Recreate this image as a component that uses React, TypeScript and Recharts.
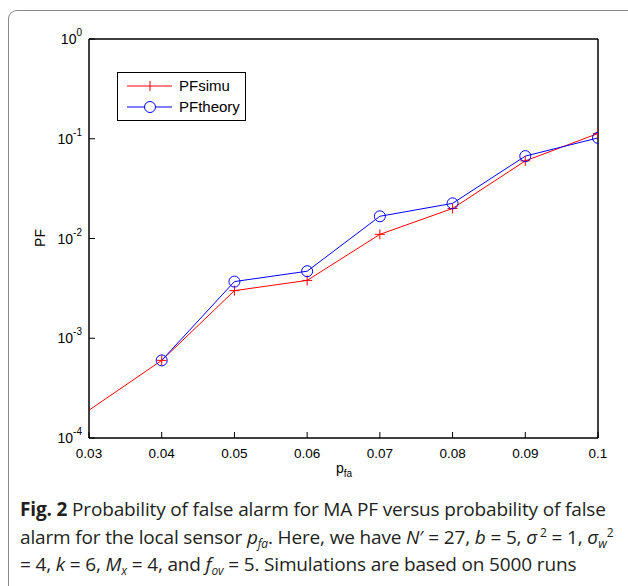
import { LineChart, Line, XAxis, YAxis, Legend, ReferenceArea } from "recharts";

const pfa = [0.03, 0.04, 0.05, 0.06, 0.07, 0.08, 0.09, 0.1];
const pfSimu = [1.9e-4, 6.0e-4, 3.0e-3, 3.8e-3, 1.1e-2, 2.0e-2, 6.0e-2, 1.13e-1];
const pfTheory = [null, 6.0e-4, 3.7e-3, 4.7e-3, 1.67e-2, 2.25e-2, 6.7e-2, 1.02e-1];

const xTicks = [0.03, 0.04, 0.05, 0.06, 0.07, 0.08, 0.09, 0.1];
const xTickLabels = ["0.03", "0.04", "0.05", "0.06", "0.07", "0.08", "0.09", "0.1"];
const yTicks = [1e-4, 1e-3, 1e-2, 1e-1, 1];
const yExponents = ["-4", "-3", "-2", "-1", "0"];
const minorSteps = [2, 3, 4, 5, 6, 7, 8, 9];
const yMinorTicks = yTicks.slice(0, 4).flatMap((d) => minorSteps.map((m) => m * d));

const data = pfa.map((x, i) => ({ x, simu: pfSimu[i], theory: pfTheory[i] }));

const FONT = "'Liberation Sans', Arial, Helvetica, sans-serif";
const CAPTION_FONT = "'Open Sans', 'Noto Sans', sans-serif";
const RED = "#ff0000";
const BLUE = "#0000ff";

const PlusDot = (props: any) => {
  const { cx, cy, index } = props;
  if (index === 0 || cx == null || cy == null) return <g key={`p${index}`} />;
  return (
    <g key={`p${index}`} stroke={RED} strokeWidth={1}>
      <line x1={cx - 5} x2={cx + 5} y1={cy} y2={cy} />
      <line x1={cx} x2={cx} y1={cy - 5} y2={cy + 5} />
    </g>
  );
};

const CircleDot = (props: any) => {
  const { cx, cy, index } = props;
  if (cx == null || cy == null) return <g key={`c${index}`} />;
  return <circle key={`c${index}`} cx={cx} cy={cy} r={5.5} fill="none" stroke={BLUE} strokeWidth={1} />;
};

const YTick = (props: any) => {
  const { y, payload } = props;
  const i = yTicks.indexOf(payload.value);
  return (
    <text x={82} y={y + 5} textAnchor="end" fontFamily={FONT} fontSize={14} fill="#000">
      <tspan>10</tspan>
      <tspan dy={-8} fontSize={10}>{yExponents[i]}</tspan>
    </text>
  );
};

const XTick = (props: any) => {
  const { x, payload } = props;
  const i = xTicks.indexOf(payload.value);
  return (
    <text x={x} y={458} textAnchor="middle" fontFamily={FONT} fontSize={13.5} fill="#000">
      {xTickLabels[i]}
    </text>
  );
};

const LegendBox = () => (
  <svg width={130} height={50} style={{ display: "block" }}>
    <rect x={0.5} y={0.5} width={128} height={48} fill="#fff" stroke="#000" strokeWidth={1} />
    <line x1={10} x2={55} y1={14} y2={14} stroke={RED} strokeWidth={1} />
    <line x1={33} x2={33} y1={9} y2={19} stroke={RED} strokeWidth={1} />
    <text x={62} y={19} fontFamily={FONT} fontSize={15} fill="#000">PFsimu</text>
    <line x1={10} x2={55} y1={35} y2={35} stroke={BLUE} strokeWidth={1} />
    <circle cx={33} cy={35} r={5.5} fill="#fff" stroke={BLUE} strokeWidth={1} />
    <text x={62} y={40} fontFamily={FONT} fontSize={15} fill="#000">PFtheory</text>
  </svg>
);

const subStyle = { fontSize: 12, position: "relative" as const, top: 4, lineHeight: 0, verticalAlign: "baseline" };
const supStyle = { fontSize: 12, position: "relative" as const, top: -7, lineHeight: 0, verticalAlign: "baseline" };

export default function App() {
  return (
    <div style={{ position: "relative", width: 628, height: 586, background: "#fff", overflow: "hidden" }}>
      <style>{`body{margin:0}`}</style>
      <div
        style={{
          position: "absolute",
          left: 8,
          top: 10,
          width: 700,
          height: 700,
          borderTop: "1.5px solid #8a8a8a",
          borderLeft: "1.5px solid #8a8a8a",
          borderTopLeftRadius: 9,
        }}
      />
      <div style={{ position: "absolute", left: 0, top: 0 }}>
        <LineChart width={628} height={480} data={data} margin={{ top: 39, right: 30, bottom: 0, left: 0 }}>
          <XAxis
            xAxisId="b"
            dataKey="x"
            type="number"
            domain={[0.03, 0.1]}
            ticks={xTicks}
            allowDataOverflow
            height={42}
            tick={<XTick />}
            tickSize={-6}
            stroke="#000"
            axisLine
            interval={0}
          />
          <XAxis
            xAxisId="t"
            dataKey="x"
            type="number"
            orientation="top"
            mirror
            height={1}
            domain={[0.03, 0.1]}
            ticks={xTicks}
            allowDataOverflow
            tick={false}
            tickSize={6}
            stroke="#000"
            axisLine
            interval={0}
          />
          <YAxis
            yAxisId="l"
            type="number"
            scale="log"
            domain={[1e-4, 1]}
            ticks={yTicks}
            allowDataOverflow
            width={89}
            tick={<YTick />}
            tickSize={-6}
            stroke="#000"
            axisLine
            interval={0}
          />
          <YAxis
            yAxisId="lm"
            type="number"
            scale="log"
            domain={[1e-4, 1]}
            ticks={yMinorTicks}
            allowDataOverflow
            mirror
            width={1}
            tick={false}
            tickSize={3}
            stroke="#000"
            axisLine={false}
            interval={0}
          />
          <YAxis
            yAxisId="r"
            type="number"
            scale="log"
            orientation="right"
            mirror
            width={1}
            domain={[1e-4, 1]}
            ticks={yTicks}
            allowDataOverflow
            tick={false}
            tickSize={6}
            stroke="#000"
            axisLine
            interval={0}
          />
          <YAxis
            yAxisId="rm"
            type="number"
            scale="log"
            orientation="right"
            mirror
            width={1}
            domain={[1e-4, 1]}
            ticks={yMinorTicks}
            allowDataOverflow
            tick={false}
            tickSize={3}
            stroke="#000"
            axisLine={false}
            interval={0}
          />
          <ReferenceArea
            xAxisId="b"
            yAxisId="l"
            x1={0.03}
            x2={0.1}
            y1={1e-4}
            y2={1}
            fill="none"
            fillOpacity={0}
            stroke="#000"
            strokeWidth={1}
            ifOverflow="visible"
          />
          <Legend
            layout="vertical"
            align="center"
            verticalAlign="middle"
            content={<LegendBox />}
            wrapperStyle={{ left: 117, top: 72, width: 130, height: 50 }}
          />
          <Line
            xAxisId="b"
            yAxisId="l"
            dataKey="simu"
            name="PFsimu"
            stroke={RED}
            strokeWidth={1}
            dot={PlusDot}
            activeDot={false}
            isAnimationActive={false}
          />
          <Line
            xAxisId="b"
            yAxisId="l"
            dataKey="theory"
            name="PFtheory"
            stroke={BLUE}
            strokeWidth={1}
            dot={CircleDot}
            activeDot={false}
            isAnimationActive={false}
          />
        </LineChart>
      </div>
      <div
        style={{
          position: "absolute",
          left: 40,
          top: 238,
          transform: "translate(-50%, -50%) rotate(-90deg)",
          fontFamily: FONT,
          fontSize: 14,
        }}
      >
        PF
      </div>
      <div style={{ position: "absolute", left: 336, top: 460, fontFamily: FONT, fontSize: 14 }}>
        p<span style={{ fontSize: 10, position: "relative", top: 4 }}>fa</span>
      </div>
      <div
        style={{
          position: "absolute",
          left: 20,
          top: 496,
          fontFamily: CAPTION_FONT,
          fontSize: 19,
          lineHeight: "27.5px",
          color: "#231f20",
          whiteSpace: "nowrap",
          letterSpacing: -0.15,
        }}
      >
        <div>
          <b>Fig. 2</b> Probability of false alarm for MA PF versus probability of false
        </div>
        <div>
          alarm for the local sensor <i>p</i>
          <span style={subStyle}>
            <i>fa</i>
          </span>
          . Here, we have <i>N</i>′ = 27, <i>b</i> = 5, <i>σ</i>
          <span style={supStyle}> 2</span> = 1, <i>σ</i>
          <span style={subStyle}>
            <i>w</i>
          </span>
          <span style={supStyle}>2</span>
        </div>
        <div>
          = 4, <i>k</i> = 6, <i>M</i>
          <span style={subStyle}>
            <i>x</i>
          </span>{" "}
          = 4, and <i>f</i>
          <span style={subStyle}>
            <i>ov</i>
          </span>{" "}
          = 5. Simulations are based on 5000 runs
        </div>
      </div>
    </div>
  );
}
